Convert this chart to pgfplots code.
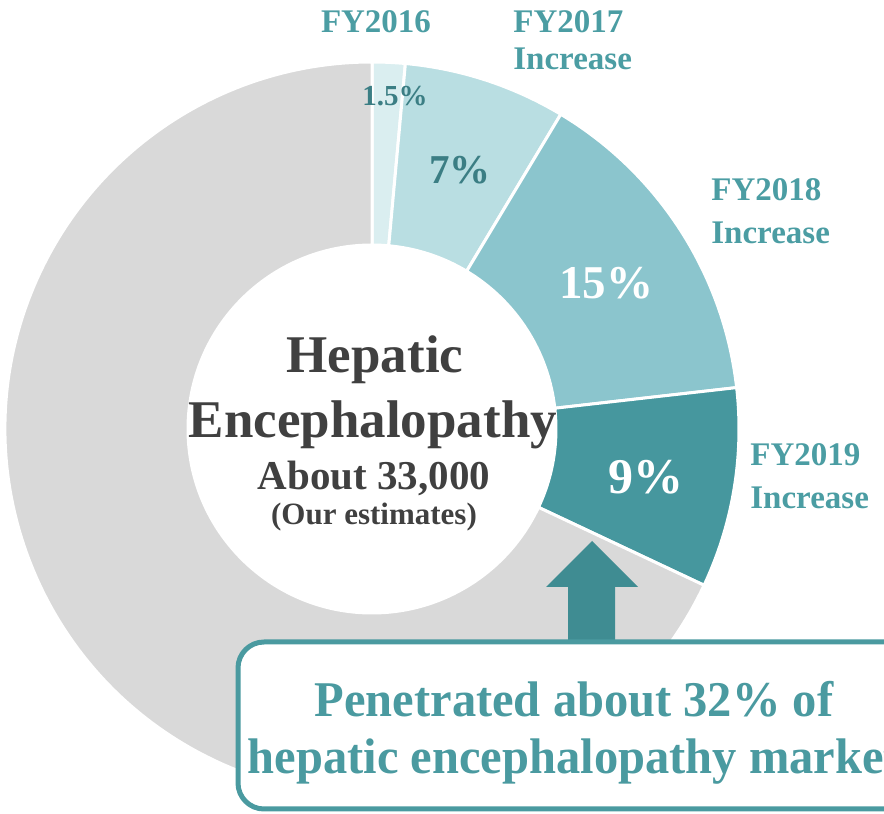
\documentclass[border=0pt]{standalone}
\usepackage{fontspec}
\setmainfont{Liberation Serif}
\usepackage{pgfplots}
\usepackage{pgfplotstable}
\pgfplotsset{compat=1.18}
\definecolor{cGray}{HTML}{D9D9D9}
\definecolor{c16}{HTML}{DAEEF0}
\definecolor{c17}{HTML}{B9DEE2}
\definecolor{c18}{HTML}{8BC5CD}
\definecolor{c19}{HTML}{46979E}
\definecolor{cLab}{HTML}{4B9DA3}
\definecolor{cPct}{HTML}{3B7E84}
\definecolor{cTxt}{HTML}{404040}
\definecolor{cArrow}{HTML}{3F8C92}
\definecolor{cBox}{HTML}{4A9AA0}
% wedge sizes (percent of the market)
\pgfplotstableread{
name value col
FY2016 1.45 c16
FY2017 7.15 c17
FY2018 14.6 c18
FY2019 8.8 c19
Other 68 cGray
}\piedata
\newcommand{\fs}[1]{\fontsize{#1}{#1}\selectfont\bfseries}
\begin{document}
\begin{tikzpicture}
\begin{axis}[x=0.5pt, y=0.5pt, xmin=0, xmax=884, ymin=0, ymax=814,
  hide axis, clip=false, scale only axis]
\xdef\startang{90}
\pgfplotsinvokeforeach{0,...,4}{
  \pgfplotstablegetelem{#1}{value}\of\piedata \let\val\pgfplotsretval
  \pgfplotstablegetelem{#1}{col}\of\piedata \let\col\pgfplotsretval
  \pgfmathsetmacro\endang{\startang-3.6*\val}
  \edef\wedge{\noexpand\fill[\col, draw=white, line width=1.5pt, line join=round]
    ([shift={(\startang:183.5pt)}]axis cs:372,385)
    arc[start angle=\startang, end angle=\endang, radius=183.5pt]
    -- ([shift={(\endang:92pt)}]axis cs:372,385)
    arc[start angle=\endang, end angle=\startang, radius=92pt] -- cycle;}
  \wedge
  \xdef\startang{\endang}
}
% labels
\node[anchor=base, text=cLab] at (axis cs:376,781) {\fs{16.5}FY2016};
\node[anchor=base west, text=cLab, inner sep=0pt] at (axis cs:513,781) {\fs{16.5}FY2017};
\node[anchor=base west, text=cLab, inner sep=0pt] at (axis cs:513,744) {\fs{16.5}Increase};
\node[anchor=base west, text=cLab, inner sep=0pt] at (axis cs:711,613) {\fs{16.5}FY2018};
\node[anchor=base west, text=cLab, inner sep=0pt] at (axis cs:711,570) {\fs{16.5}Increase};
\node[anchor=base west, text=cLab, inner sep=0pt] at (axis cs:750,348) {\fs{16.5}FY2019};
\node[anchor=base west, text=cLab, inner sep=0pt] at (axis cs:750,305) {\fs{16.5}Increase};
\node[anchor=base, text=cPct, inner sep=0pt] at (axis cs:395,708) {\fs{14.5}1.5\%};
\node[anchor=base, text=cPct, inner sep=0pt] at (axis cs:460,630) {\fs{20.5}7\%};
\node[anchor=base, text=white, inner sep=0pt] at (axis cs:606,515) {\fs{23.5}15\%};
\node[anchor=base, text=white, inner sep=0pt] at (axis cs:646,320) {\fs{25}9\%};
% center
\node[anchor=base, text=cTxt, inner sep=0pt] at (axis cs:375,441) {\fs{26.5}Hepatic};
\node[anchor=base, text=cTxt, inner sep=0pt] at (axis cs:373,376) {\fs{26.5}Encephalopathy};
\node[anchor=base, text=cTxt, inner sep=0pt] at (axis cs:374,324) {\fs{20.5}About 33,000};
\node[anchor=base, text=cTxt, inner sep=0pt] at (axis cs:374,289) {\fs{15.5}(Our estimates)};
% arrow
\fill[cArrow] (axis cs:568,170) -- (axis cs:568,227) -- (axis cs:546,227) -- (axis cs:592,273)
  -- (axis cs:638,227) -- (axis cs:615,227) -- (axis cs:615,170) -- cycle;
% callout box
\draw[cBox, fill=white, line width=2.5pt, rounded corners=13pt] (axis cs:238,5) rectangle (axis cs:960,172);
\node[anchor=base, text=cBox, inner sep=0pt, xscale=0.97] at (axis cs:574,97) {\fs{25}Penetrated about 32\% of};
\node[anchor=base, text=cBox, inner sep=0pt, xscale=0.97] at (axis cs:574,40) {\fs{25}hepatic encephalopathy market};
\end{axis}
\pgfresetboundingbox
\useasboundingbox (0,0) rectangle (442pt,407pt);
\end{tikzpicture}
\end{document}
